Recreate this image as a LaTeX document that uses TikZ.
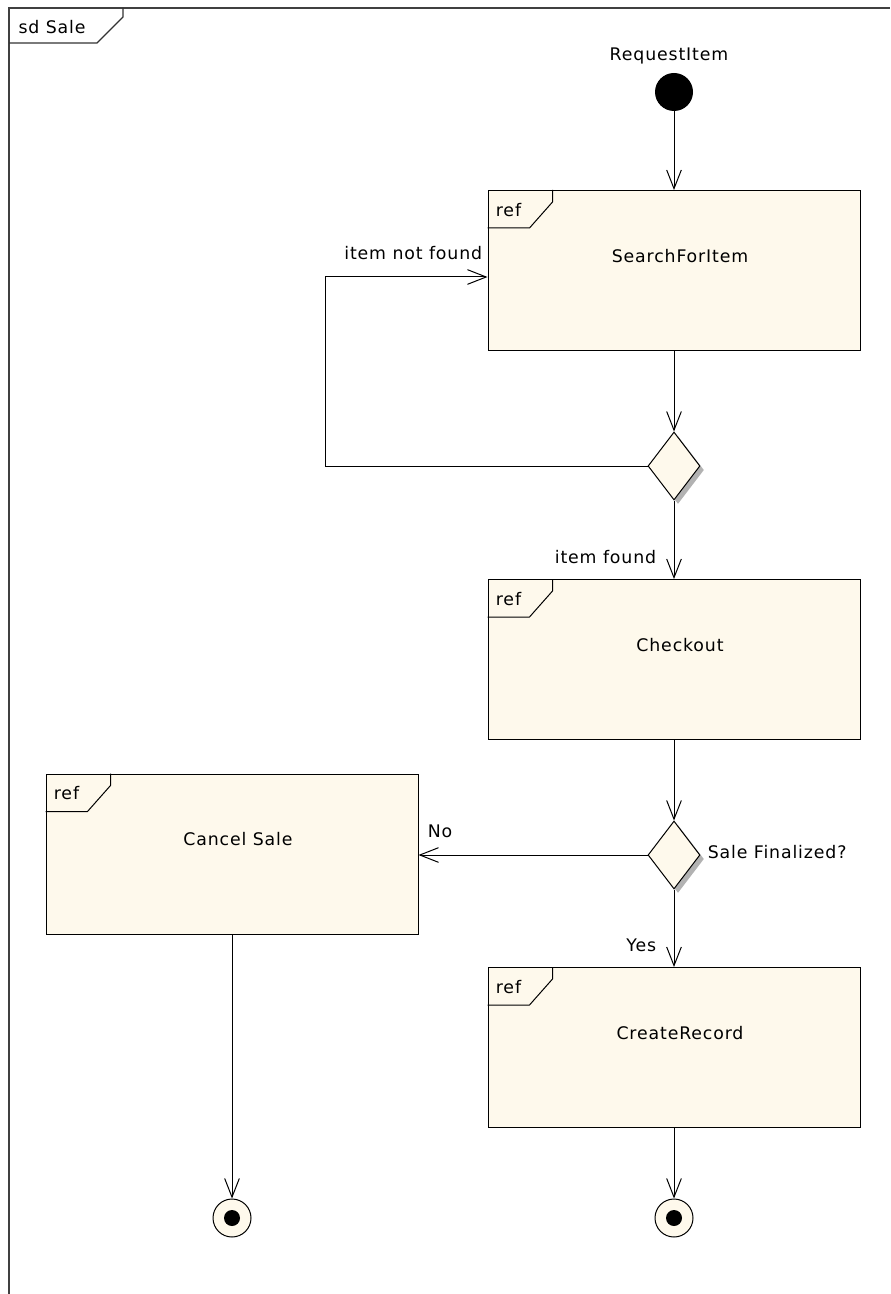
\documentclass[tikz,border=0pt]{standalone}
\usepackage{fontspec}
\setmainfont{DejaVu Sans}[LetterSpace=5]
\usetikzlibrary{arrows.meta,calc,shapes.geometric,shadows}
\definecolor{sdcream}{HTML}{FEF9EC}
\tikzset{
	refbox/.style={draw,fill=sdcream,rectangle,inner sep=0,minimum width=279pt,minimum height=120pt},
	choice/.style={draw,fill=sdcream,diamond,inner sep=0,minimum width=39pt,minimum height=51pt,
		drop shadow={shadow xshift=3pt,shadow yshift=-3pt,fill=black!30,opacity=1}},
	flow/.style={-{Straight Barb[length=14pt,width=11pt]}},
	lbl/.style={inner sep=1pt,font=\fontsize{13}{15}\selectfont},
	frame/.style={line width=1.2pt,draw=black!75}
}
\newcommand\RefFrame[3]{%
	\node[refbox] (#1) at (#2) {};
	\draw ($(#1.north west)+(0,38)$)--++(42,0)--++(23,-26)--($(#1.north west)+(65,0)$);
	\node[lbl] (#1-ref) at ($(#1.north west)+(21,20)$) {ref};
	\node[lbl] (#1-text) at ($(#1.north)+(6,66)$) {#3};
}
\begin{document}
\begin{tikzpicture}[x=0.75pt,y=-0.75pt,line width=0.75pt]
\useasboundingbox (0,0) rectangle (890,1294);
\draw[frame] (9,1294)--(9,8)--(890,8);
\draw[line width=0.9pt,draw=black!80] (9,43)--(97,43)--(123,17)--(123,8);
\node[lbl] (sdname) at (52,27) {sd Sale};
\node[circle,fill=black,inner sep=0,minimum size=28.5pt] (start) at (674,92) {};
\node[lbl] (startlbl) at (669,56) {RequestItem};
\RefFrame{search}{674,270.5}{SearchForItem}
\RefFrame{checkout}{674,659.5}{Checkout}
\RefFrame{cancel}{232,854}{Cancel Sale}
\RefFrame{record}{674,1047.5}{CreateRecord}
\node[choice] (found) at (674,466) {};
\node[choice] (final) at (674,855) {};
\node[circle,draw,fill=sdcream,inner sep=0,minimum size=28.5pt,
	path picture={\fill[black] (path picture bounding box.center) circle (6pt);}] (endA) at (232,1218) {};
\node[circle,draw,fill=sdcream,inner sep=0,minimum size=28.5pt,
	path picture={\fill[black] (path picture bounding box.center) circle (6pt);}] (endB) at (674,1218) {};
\coordinate (loopA) at (325,466);
\coordinate (loopB) at (325,277);
\draw[flow] (start)--(search);
\draw[flow] (search)--(found);
\draw[flow] (found.west)--(loopA)--(loopB)--(search.west|-loopB);
\draw[flow] (found)--(checkout);
\draw[flow] (checkout)--(final);
\draw[flow] (final.west)--(cancel.east|-final.west);
\draw[flow] (final)--(record);
\draw[flow] (record)--(endB);
\draw[flow] (cancel)--(endA);
\node[lbl,anchor=east] (notfound) at (484,253) {item not found};
\node[lbl,anchor=east] (isfound) at (658,557) {item found};
\node[lbl,anchor=west] (finalq) at (706,852) {Sale Finalized?};
\node[lbl,anchor=west] (nolbl) at (426,831) {No};
\node[lbl,anchor=east] (yeslbl) at (658,945) {Yes};
\end{tikzpicture}
\end{document}
